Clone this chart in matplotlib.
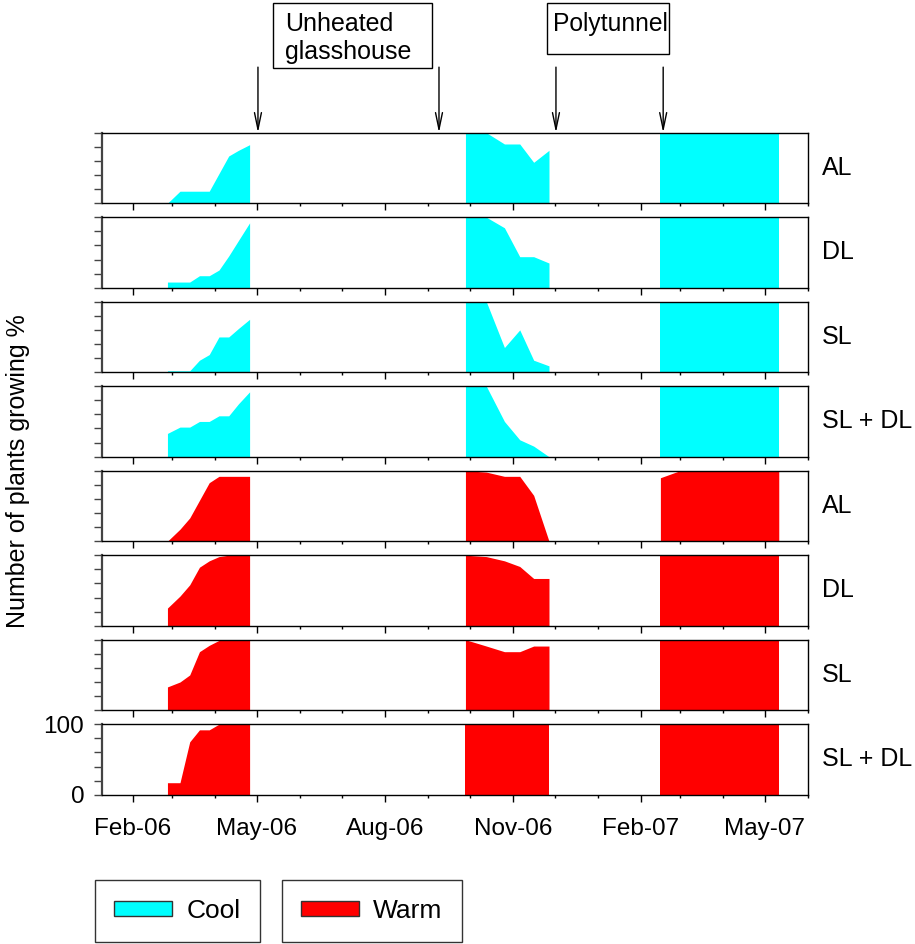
import matplotlib
matplotlib.use('Agg')
import matplotlib.pyplot as plt
import matplotlib.dates as mdates
from matplotlib.patches import Patch, Rectangle
import pandas as pd

plt.rcParams['font.family'] = ['Liberation Sans', 'DejaVu Sans']
plt.rcParams['font.size'] = 17.5

# sampling dates for each growing period
dates_spring06 = pd.to_datetime(['2006-02-26', '2006-03-07', '2006-03-14', '2006-03-21', '2006-03-28',
                                 '2006-04-04', '2006-04-11', '2006-04-18', '2006-04-26'])
dates_autumn06 = pd.to_datetime(['2006-09-28', '2006-10-13', '2006-10-26', '2006-11-06',
                                 '2006-11-16', '2006-11-27'])
dates_spring07 = pd.to_datetime(['2007-02-15', '2007-03-01', '2007-05-11'])

treatments = ['AL', 'DL', 'SL', 'SL + DL']

# % plants growing, one row per treatment (AL, DL, SL, SL + DL)
cool_spring06 = [[0, 17, 17, 17, 17, 42, 67, 75, 83],
                 [8, 8, 8, 17, 17, 25, 45, 67, 92],
                 [2, 2, 2, 17, 25, 50, 50, 62, 75],
                 [33, 42, 42, 50, 50, 58, 58, 75, 92]]
cool_autumn06 = [[100, 100, 84, 84, 58, 75],
                 [100, 100, 85, 44, 44, 35],
                 [100, 100, 35, 60, 17, 9],
                 [100, 100, 50, 24, 15, 0]]
cool_spring07 = [[100, 100, 100],
                 [100, 100, 100],
                 [100, 100, 100],
                 [100, 100, 100]]

warm_spring06 = [[0, 17, 33, 58, 83, 92, 92, 92, 92],
                 [25, 42, 58, 83, 92, 98, 100, 100, 100],
                 [33, 40, 50, 83, 92, 99, 100, 100, 100],
                 [17, 17, 75, 92, 92, 100, 100, 100, 100]]
warm_autumn06 = [[100, 98, 92, 92, 65, 0],
                 [100, 98, 92, 84, 67, 67],
                 [100, 91, 83, 83, 91, 91],
                 [100, 100, 100, 100, 100, 100]]
warm_spring07 = [[90, 100, 100],
                 [100, 100, 100],
                 [100, 100, 100],
                 [100, 100, 100]]

cool_col = '#00ffff'
warm_col = '#ff0000'

W, H = 915, 944
fig = plt.figure(figsize=(W / 100, H / 100), dpi=100)

# panel layout in pixels
left, right = 102, 808
top0, pitch, ph = 132.7, 84.5, 70.5

panels = []
for i in range(8):
    top = top0 + i * pitch
    ax = fig.add_axes([left / W, 1 - (top + ph) / H, (right - left) / W, ph / H])
    panels.append(ax)

series = []
for k in range(4):
    series.append((cool_col, cool_spring06[k], cool_autumn06[k], cool_spring07[k], treatments[k]))
for k in range(4):
    series.append((warm_col, warm_spring06[k], warm_autumn06[k], warm_spring07[k], treatments[k]))

for ax, (col, s06, a06, s07, name) in zip(panels, series):
    ax.fill_between(dates_spring06, s06, 0, color=col, lw=0)
    ax.fill_between(dates_autumn06, a06, 0, color=col, lw=0)
    ax.fill_between(dates_spring07, s07, 0, color=col, lw=0)
    ax.set_xlim(pd.Timestamp('2006-01-10'), pd.Timestamp('2007-06-01'))
    ax.set_ylim(0, 100)
    ax.set_yticks([0, 20, 40, 60, 80, 100])
    ax.set_yticklabels([])
    ax.xaxis.set_major_locator(mdates.MonthLocator(bymonth=[2, 5, 8, 11]))
    ax.xaxis.set_minor_locator(mdates.MonthLocator())
    ax.xaxis.set_major_formatter(mdates.DateFormatter('%b-%y'))
    ax.tick_params(axis='x', which='major', direction='out', length=4.8, width=1, pad=12,
                   labelbottom=False, labelsize=17.5)
    ax.tick_params(axis='x', which='minor', direction='out', length=2.4, width=1)
    ax.tick_params(axis='y', direction='out', length=5.8, width=1, color='#444444', pad=7)
    for side in ['top', 'bottom', 'right']:
        ax.spines[side].set_linewidth(1)
        ax.spines[side].set_color('black')
    ax.spines['left'].set_linewidth(1.6)
    ax.spines['left'].set_color('#444444')
    ax.text(1.02, 0.5, name, transform=ax.transAxes, va='center', ha='left', fontsize=18)

bottom_ax = panels[-1]
bottom_ax.tick_params(axis='x', which='major', labelbottom=True)
bottom_ax.set_yticklabels(['0', '', '', '', '', '100'])

fig.text(18 / W, 1 - 471 / H, 'Number of plants growing %', rotation=90,
         va='center', ha='center', fontsize=18)

# arrows marking moves between glasshouse and polytunnel
top_ax = panels[0]
for d in ['2006-05-02', '2006-09-09', '2006-12-02', '2007-02-17']:
    t = pd.Timestamp(d)
    top_ax.annotate('', xy=(t, 1.0), xycoords=('data', 'axes fraction'),
                    xytext=(t, 1.93), textcoords=('data', 'axes fraction'),
                    annotation_clip=False,
                    arrowprops=dict(arrowstyle='->,head_length=1.2,head_width=0.25',
                                    mutation_scale=10, lw=1, color='black',
                                    shrinkA=0, shrinkB=0))


def box(x0, y0, x1, y1):
    fig.add_artist(Rectangle((x0 / W, 1 - y1 / H), (x1 - x0) / W, (y1 - y0) / H,
                             transform=fig.transFigure, fill=False,
                             edgecolor='black', lw=1))


box(272.7, 3.3, 431.7, 68.3)
fig.text(285 / W, 1 - 12 / H, 'Unheated\nglasshouse', ha='left', va='top', fontsize=18)
box(547, 3.3, 669.3, 54)
fig.text(553 / W, 1 - 12.5 / H, 'Polytunnel', ha='left', va='top', fontsize=17.7)

# two separate legend boxes
for x0, col, lab in [(95, cool_col, 'Cool'), (281.7, warm_col, 'Warm')]:
    leg = fig.legend(handles=[Patch(facecolor=col, edgecolor='#333333', lw=1)], labels=[lab],
                     loc='upper left', bbox_to_anchor=(x0 / W, 1 - 880 / H), fontsize=19,
                     borderaxespad=0, borderpad=0.72, handlelength=2.2, handleheight=0.5,
                     handletextpad=0.55, fancybox=False, framealpha=1, edgecolor='#333333')
    leg.get_frame().set_linewidth(1)

fig.savefig('out.png', dpi=100)
